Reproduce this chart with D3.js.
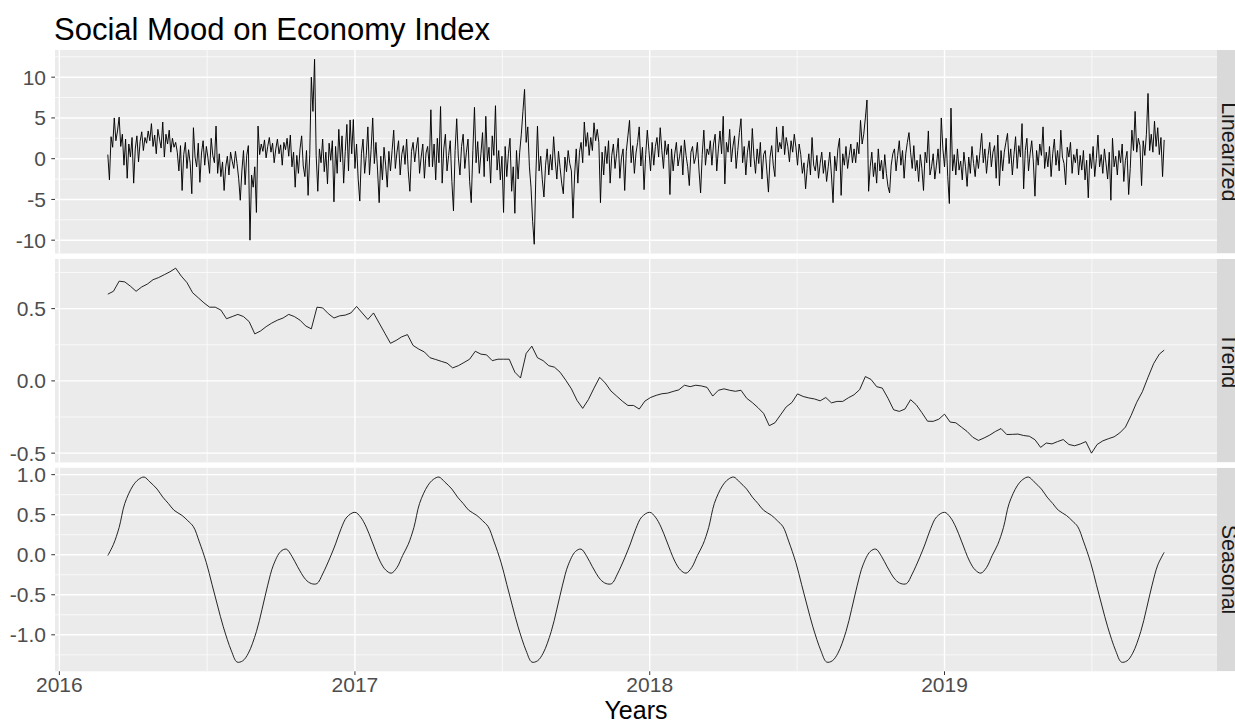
<!DOCTYPE html>
<html><head><meta charset="utf-8">
<script src="https://cdn.jsdelivr.net/npm/d3@7"></script>
<style>
body{margin:0;background:#fff}
svg{display:block}
text{font-family:"Liberation Sans",Arial,Helvetica,sans-serif}
</style>
</head><body>
<svg id="chart" width="1235" height="720"></svg>
<script>
// ---------------- DATA ----------------
const chartTitle = "Social Mood on Economy Index";
const xAxisTitle = "Years";
const startDate = "2016-03-01";
const endDate = "2019-09-30";
const panelNames = ["Linearized", "Trend", "Seasonal"];

// Linearized series: one reading every 2 days from startDate
const linearizedStepDays = 2;
const linearized = [
 0.5,-2.6,2.7,1.4,5.0,2.2,3.4,5.1,1.5,3.0,
 -0.8,2.4,-2.4,1.8,0.2,2.6,-3.0,
 1.2,2.8,-0.4,2.1,3.3,1.0,2.6,1.9,3.4,2.2,4.3,1.5,2.9,0.6,3.6,2.4,1.3,4.5,0.2,3.0,1.8,3.5,0.8,2.5,1.4,2.0,
 0.8,-1.5,1.6,-3.9,0.5,2.0,-1.2,1.1,-0.6,-4.3,
 3.8,0.2,-1.0,1.9,-2.9,0.7,2.2,-0.8,1.5,0.1,-1.8,2.5,0.4,-0.5,4.0,
 -1.8,0.6,-2.2,-0.4,-3.9,-1.0,0.3,-2.0,0.8,-0.3,-1.2,0.9,-0.6,-2.4,
 -5.1,-1.5,1.0,-3.2,0.4,1.6,-10.0,-2.0,-3.5,-1.0,-6.6,
 4.0,0.5,1.8,0.9,2.3,0.1,1.5,2.6,0.8,1.9,-0.5,1.2,2.4,0.6,1.7,-0.8,2.0,1.1,2.5,0.3,
 2.9,-1.0,0.8,-3.5,0.4,-1.8,1.2,2.8,-0.9,-2.2,1.0,-4.5,
 0.5,10.0,5.8,12.2,0.4,
 -4.0,1.2,-0.5,2.4,-1.6,0.8,-3.1,1.9,-0.2,2.2,
 -5.3,1.5,-1.8,3.6,-0.4,2.8,-3.0,0.9,4.2,-1.5,4.75,0.6,
 4.8,-1.2,1.8,-2.5,-5.2,0.6,2.4,-1.8,0.4,3.9,-2.0,1.1,5.0,-0.6,2.0,-1.4,-5.4,
 0.3,-2.6,1.4,-0.8,-3.5,0.9,-1.5,
 1.0,3.5,-1.2,0.8,2.2,-2.0,0.5,1.6,-0.7,2.4,-1.5,-4.0,0.9,2.0,-0.4,1.3,2.6,-1.8,0.2,1.8,-2.4,0.7,1.5,-1.0,
 6.0,-1.0,1.8,-2.6,2.5,-0.5,6.4,-3.0,1.2,3.0,-1.5,0.4,2.2,-2.8,-6.4,1.0,
 4.9,0.2,-2.0,1.5,3.0,-1.2,0.8,2.4,-2.8,-5.4,1.0,6.3,-0.5,2.1,-1.8,0.6,3.2,-2.2,5.2,-0.3,1.4,-3.0,2.8,0.4,6.5,-1.4,1.0,-2.6,0.3,-6.6,
 1.5,-2.2,0.6,2.5,-4.0,-1.0,-6.7,1.0,-2.5,0.8,3.0,5.8,8.5,2.0,3.9,-1.0,-3.5,-7.7,-10.5,-2.0,
 4.0,-1.5,0.3,-2.6,-4.7,-0.8,1.2,-2.0,0.5,-1.4,2.7,-0.3,-2.5,0.9,-1.1,-3.0,-4.3,0.2,-1.6,1.0,-0.6,
 -1.5,-7.3,-2.0,1.2,-3.0,0.8,2.0,-0.5,4.5,
 1.5,3.2,0.4,2.6,1.0,4.4,2.2,3.6,2.0,-5.4,
 0.8,-2.0,1.5,-0.6,2.2,-3.0,0.4,1.8,-1.2,0.6,2.5,-2.4,0.1,1.2,-3.9,0.9,2.8,4.7,-0.5,1.6,-1.8,0.7,2.0,3.9,-0.9,1.4,-3.8,0.5,3.5,1.0,-1.5,
 2.0,-0.8,1.5,2.6,0.2,3.8,1.0,-1.2,2.2,0.5,1.8,-4.4,
 1.2,-1.5,0.6,2.0,-0.9,0.3,1.6,-2.0,2.3,0.4,-1.0,-3.3,0.8,1.5,-0.6,0.2,2.0,-1.4,-4.2,0.5,3.5,-0.8,1.2,
 0.5,2.2,-0.8,1.8,3.0,-1.5,1.2,3.4,0.6,5.2,-3.1,2.0,0.8,3.6,-0.4,1.5,2.8,-1.2,1.0,3.2,4.9,
 -0.5,1.5,-2.0,0.8,2.2,-1.0,3.7,0.3,-1.8,1.2,-0.6,2.0,-2.5,0.5,1.0,-1.5,-4.1,0.2,1.6,-0.8,
 -2.2,3.9,0.8,2.0,1.2,4.0,0.5,2.6,1.5,-0.4,2.2,0.8,3.0,1.4,-0.8,1.8,
 0.5,-1.8,-0.5,-3.7,-1.2,0.6,-2.0,2.6,-0.8,-1.5,0.4,-2.4,-0.6,0.8,-1.8,-0.2,-2.8,
 -1.0,0.8,-2.0,-5.4,0.3,-1.5,1.2,2.5,-4.5,0.6,-0.8,1.5,-1.2,0.4,1.8,-0.5,
 1.2,-0.5,2.0,0.6,4.7,1.8,3.0,5.0,7.2,-4.0,
 -1.0,0.8,-2.2,-0.5,-3.0,1.2,-1.5,-0.2,-2.5,0.5,-1.8,-3.4,-4.2,-0.8,0.6,
 1.2,-1.5,0.4,2.2,-0.8,1.0,-2.4,0.6,2.0,3.2,0.8,-1.2,1.6,
 -1.5,-0.2,-2.8,0.5,-1.2,-3.9,0.8,-0.5,3.4,-2.0,-1.0,0.6,-2.5,-0.8,1.2,-1.8,
 5.0,1.2,-1.0,2.5,-2.2,-5.5,6.2,-1.5,
 0.5,-2.0,1.2,-1.4,-0.3,-2.6,0.8,-1.0,-3.4,0.2,-1.8,1.5,-0.6,-2.2,0.4,-1.2,0.9,
 3.1,-0.5,1.2,-1.8,0.4,2.0,-1.0,0.8,1.6,-2.4,2.9,-3.3,
 1.0,-1.5,0.8,2.0,3.1,-0.6,1.2,-2.0,0.5,2.7,-1.2,1.6,0.2,4.3,-3.7,1.0,2.5,-1.5,0.6,2.2,-0.4,-4.6,1.0,-0.8,1.8,0.4,3.9,-1.2,0.8,
 -1.0,1.5,-2.2,0.6,2.4,-0.8,1.0,-1.5,3.5,0.2,-0.6,-3.2,1.4,0.2,2.0,-1.8,0.5,
 -0.5,1.2,-2.0,0.4,-1.4,1.0,-2.6,-0.2,-4.8,0.6,-1.2,1.5,-2.2,0.0,2.9,-1.0,
 0.5,-1.8,1.2,-0.6,-2.5,0.8,-5.1,2.5,-1.0,0.3,-2.0,1.0,-0.5,1.8,-2.8,-0.2,0.9,-4.4,-1.2,
 3.5,1.0,5.8,0.8,2.5,1.6,-3.3,2.2,0.4,3.0,
 8.0,1.0,3.0,0.8,4.6,1.5,3.8,0.5,2.6,-2.2,2.3
];

// Trend: one reading every 7 days from startDate, last value on endDate
const trendStepDays = 7;
const trend = [
 .60,.62,.69,.685,.655,.62,.65,.67,.70,.715,
 .735,.755,.78,.725,.68,.61,.575,.54,.51,.51,
 .49,.43,.445,.46,.445,.41,.325,.345,.375,.40,
 .42,.435,.46,.445,.42,.38,.36,.51,.505,.465,
 .435,.45,.455,.47,.515,.47,.425,.47,.40,.33,
 .26,.28,.305,.32,.245,.22,.20,.16,.148,.135,
 .123,.09,.105,.127,.15,.205,.185,.18,.14,.15,
 .15,.15,.06,.02,.19,.24,.16,.14,.105,.095,
 .06,.005,-.055,-.135,-.19,-.13,-.05,.025,-.015,-.07,
 -.105,-.14,-.17,-.17,-.195,-.14,-.115,-.10,-.089,-.085,
 -.073,-.062,-.03,-.04,-.03,-.035,-.045,-.105,-.065,-.055,
 -.065,-.072,-.065,-.12,-.15,-.185,-.225,-.31,-.29,-.235,
 -.18,-.15,-.09,-.108,-.118,-.125,-.138,-.115,-.152,-.142,
 -.142,-.117,-.096,-.06,.03,.01,-.04,-.05,-.12,-.20,
 -.211,-.195,-.13,-.165,-.22,-.279,-.28,-.265,-.23,-.285,
 -.29,-.32,-.35,-.39,-.412,-.395,-.375,-.35,-.33,-.371,
 -.37,-.368,-.378,-.383,-.407,-.46,-.43,-.436,-.42,-.406,
 -.44,-.449,-.437,-.42,-.50,-.44,-.415,-.40,-.387,-.36,
 -.32,-.24,-.148,-.075,.025,.12,.185,
 .213
];

// Seasonal: readings on days 1, 8, 15, 22 of each month, last value on endDate
const seasonalDaysOfMonth = [1, 8, 15, 22];
const seasonal = [
 // 2016 Mar .. 2017 Feb
 -0.01,0.13,0.34,0.64, 0.86,0.94,0.97,0.91, 0.82,0.72,0.64,0.555, 0.49,0.425,0.35,0.17,
 -0.10,-0.37,-0.64,-0.90, -1.20,-1.34,-1.325,-1.23, -0.96,-0.68,-0.38,-0.13, 0.04,0.07,-0.02,-0.15,
 -0.31,-0.36,-0.36,-0.24, -0.04,0.135,0.33,0.47, 0.53,0.47,0.345,0.17, -0.08,-0.19,-0.23,-0.16,
 // 2017 Mar .. 2018 Feb
 -0.01,0.13,0.34,0.64, 0.86,0.94,0.97,0.91, 0.82,0.72,0.64,0.555, 0.49,0.425,0.35,0.17,
 -0.10,-0.37,-0.64,-0.90, -1.20,-1.34,-1.325,-1.23, -0.96,-0.68,-0.38,-0.13, 0.04,0.07,-0.02,-0.15,
 -0.31,-0.36,-0.36,-0.24, -0.04,0.135,0.33,0.47, 0.53,0.47,0.345,0.17, -0.08,-0.19,-0.23,-0.16,
 // 2018 Mar .. 2019 Feb
 -0.01,0.13,0.34,0.64, 0.86,0.94,0.97,0.91, 0.82,0.72,0.64,0.555, 0.49,0.425,0.35,0.17,
 -0.10,-0.37,-0.64,-0.90, -1.20,-1.34,-1.325,-1.23, -0.96,-0.68,-0.38,-0.13, 0.04,0.07,-0.02,-0.15,
 -0.31,-0.36,-0.36,-0.24, -0.04,0.135,0.33,0.47, 0.53,0.47,0.345,0.17, -0.08,-0.19,-0.23,-0.16,
 // 2019 Mar .. Sep
 -0.01,0.13,0.34,0.64, 0.86,0.94,0.97,0.91, 0.82,0.72,0.64,0.555, 0.49,0.425,0.35,0.17,
 -0.10,-0.37,-0.64,-0.90, -1.20,-1.34,-1.325,-1.23, -0.96,-0.68,-0.38,-0.13,
 0.03
];

// Tick values and labels
const xTickYears = [2016, 2017, 2018, 2019];
const linearizedTicks = [-10, -5, 0, 5, 10];
const linearizedTickLabels = ["-10", "-5", "0", "5", "10"];
const trendTicks = [-0.5, 0, 0.5];
const trendTickLabels = ["-0.5", "0.0", "0.5"];
const seasonalTicks = [-1, -0.5, 0, 0.5, 1];
const seasonalTickLabels = ["-1.0", "-0.5", "0.0", "0.5", "1.0"];

// ---------------- BUILD ----------------
const parse = d3.utcParse("%Y-%m-%d");
const t0 = parse(startDate), t1 = parse(endDate);
const clampDate = d => (d > t1 ? t1 : d);

const linData = linearized.map((v, i) => ({date: clampDate(d3.utcDay.offset(t0, i * linearizedStepDays)), value: v}));
const trendData = trend.map((v, i) => ({date: i === trend.length - 1 ? t1 : clampDate(d3.utcDay.offset(t0, i * trendStepDays)), value: v}));
const seasonalDates = [];
for (let m = d3.utcMonth.floor(t0); m <= t1; m = d3.utcMonth.offset(m, 1)) {
  for (const d of seasonalDaysOfMonth) {
    const dt = new Date(Date.UTC(m.getUTCFullYear(), m.getUTCMonth(), d));
    if (dt >= t0 && dt < t1) seasonalDates.push(dt);
  }
}
seasonalDates.push(t1);
const seasonalData = seasonal.map((v, i) => ({date: seasonalDates[Math.min(i, seasonalDates.length - 1)], value: v}));

// ---------------- LAYOUT ----------------
const W = 1235, H = 720;
const left = 55, right = 1217;
const panelTop = 50, panelH = 203.5, panelGap = 5.4;
const stripW = 30;
const axisColor = "#4D4D4D", tickColor = "#333333";
const fontAxis = 21, fontStrip = 21.5;

const svg = d3.select("#chart");
svg.append("rect").attr("width", W).attr("height", H).attr("fill", "#fff");

const span = t1 - t0;
const x = d3.scaleUtc()
  .domain([new Date(+t0 - 0.05 * span), new Date(+t1 + 0.05 * span)])
  .range([left, right]);
const xMajor = xTickYears.map(y => new Date(Date.UTC(y, 0, 1)));
const xMinor = xTickYears.map(y => new Date((Date.UTC(y, 0, 1) + Date.UTC(y + 1, 0, 1)) / 2))
  .filter(d => d >= x.domain()[0] && d <= x.domain()[1]);

const panels = [
  {name: panelNames[0], data: linData, ticks: linearizedTicks, labels: linearizedTickLabels, curve: d3.curveLinear, sw: 0.95},
  {name: panelNames[1], data: trendData, ticks: trendTicks, labels: trendTickLabels, curve: d3.curveLinear, sw: 0.85},
  {name: panelNames[2], data: seasonalData, ticks: seasonalTicks, labels: seasonalTickLabels, curve: d3.curveCatmullRom.alpha(0.5), sw: 0.85}
];

panels.forEach((p, idx) => {
  const top = panelTop + idx * (panelH + panelGap);
  const bottom = top + panelH;
  const ext = d3.extent(p.data, d => d.value);
  const pad = 0.05 * (ext[1] - ext[0]);
  const y = d3.scaleLinear().domain([ext[0] - pad, ext[1] + pad]).range([bottom, top]);
  const g = svg.append("g");

  g.append("rect").attr("x", left).attr("y", top).attr("width", right - left).attr("height", panelH).attr("fill", "#EBEBEB");

  // minor grid
  const step = p.ticks[1] - p.ticks[0];
  const yMinor = p.ticks.map(v => v - step / 2).concat([p.ticks[p.ticks.length - 1] + step / 2])
    .filter(v => v >= y.domain()[0] && v <= y.domain()[1]);
  g.selectAll(".ymin").data(yMinor).join("line")
    .attr("x1", left).attr("x2", right).attr("y1", d => y(d)).attr("y2", d => y(d))
    .attr("stroke", "#fff").attr("stroke-width", 0.7);
  g.selectAll(".xmin").data(xMinor).join("line")
    .attr("x1", d => x(d)).attr("x2", d => x(d)).attr("y1", top).attr("y2", bottom)
    .attr("stroke", "#fff").attr("stroke-width", 0.7);
  // major grid
  g.selectAll(".ymaj").data(p.ticks).join("line")
    .attr("x1", left).attr("x2", right).attr("y1", d => y(d)).attr("y2", d => y(d))
    .attr("stroke", "#fff").attr("stroke-width", 1.4);
  g.selectAll(".xmaj").data(xMajor).join("line")
    .attr("x1", d => x(d)).attr("x2", d => x(d)).attr("y1", top).attr("y2", bottom)
    .attr("stroke", "#fff").attr("stroke-width", 1.4);

  // line
  const line = d3.line().x(d => x(d.date)).y(d => y(d.value)).curve(p.curve);
  g.append("path").datum(p.data).attr("d", line)
    .attr("fill", "none").attr("stroke", "#000").attr("stroke-width", p.sw).attr("stroke-linejoin", "round");

  // y axis ticks
  g.selectAll(".ytick").data(p.ticks).join("line")
    .attr("x1", left - 3.7).attr("x2", left).attr("y1", d => y(d)).attr("y2", d => y(d))
    .attr("stroke", tickColor).attr("stroke-width", 1);
  g.selectAll(".ylab").data(p.ticks).join("text")
    .attr("x", left - 9).attr("y", d => y(d)).attr("dy", "0.36em")
    .attr("text-anchor", "end").attr("font-size", fontAxis).attr("fill", axisColor)
    .text((d, i) => p.labels[i]);

  // strip (text clipped by the strip, as in the reference)
  const clipId = "clip" + idx;
  svg.append("clipPath").attr("id", clipId).append("rect")
    .attr("x", right).attr("y", top).attr("width", stripW).attr("height", panelH);
  const sg = svg.append("g").attr("clip-path", `url(#${clipId})`);
  sg.append("rect").attr("x", right).attr("y", top).attr("width", stripW).attr("height", panelH).attr("fill", "#D9D9D9");
  const cy = (top + bottom) / 2;
  sg.append("text").attr("x", right + 5).attr("y", cy)
    .attr("transform", `rotate(90, ${right + 5}, ${cy})`)
    .attr("text-anchor", "middle").attr("font-size", fontStrip).attr("fill", "#1A1A1A")
    .text(p.name);

  if (idx === panels.length - 1) {
    svg.selectAll(".xtick").data(xMajor).join("line")
      .attr("x1", d => x(d)).attr("x2", d => x(d)).attr("y1", bottom).attr("y2", bottom + 3.7)
      .attr("stroke", tickColor).attr("stroke-width", 1);
    svg.selectAll(".xlab").data(xMajor).join("text")
      .attr("x", d => x(d)).attr("y", bottom + 21)
      .attr("text-anchor", "middle").attr("font-size", fontAxis).attr("fill", axisColor)
      .text(d => d3.utcFormat("%Y")(d));
  }
});

svg.append("text").attr("x", 54).attr("y", 40).attr("font-size", 31).attr("fill", "#000").text(chartTitle);
svg.append("text").attr("x", (left + right) / 2).attr("y", 718.5).attr("text-anchor", "middle")
  .attr("font-size", 25).attr("fill", "#000").text(xAxisTitle);
</script>
</body></html>
